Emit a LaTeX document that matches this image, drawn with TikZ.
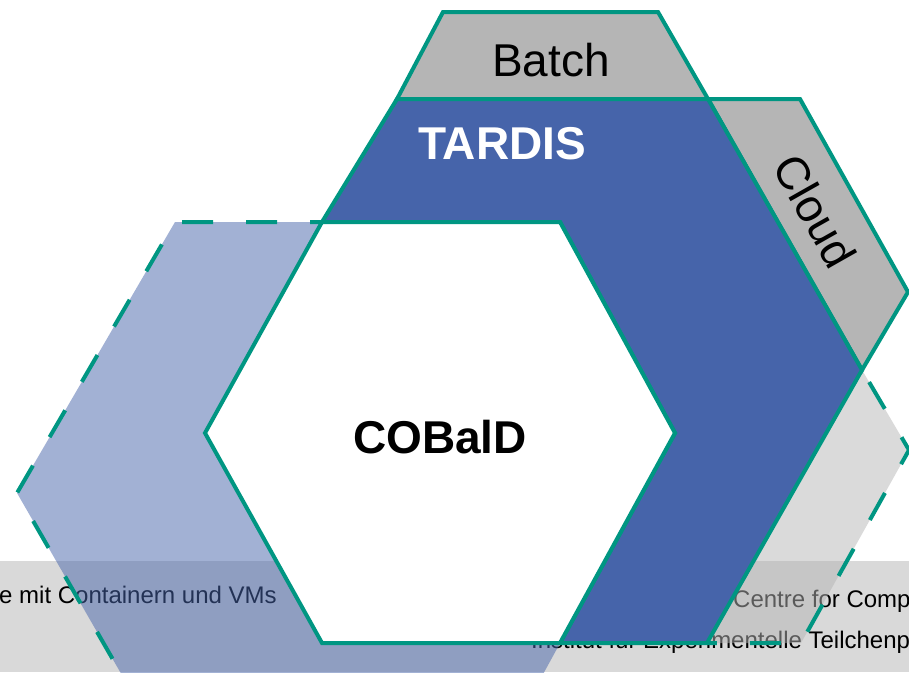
\documentclass[tikz,border=0pt]{standalone}
\usepackage{fontspec}
\setmainfont{Liberation Sans}
\definecolor{kitgreen}{RGB}{0,150,130}
\definecolor{kitblue}{RGB}{70,100,170}
\definecolor{boxgray}{RGB}{181,181,181}
\definecolor{footgray}{RGB}{217,217,217}
\tikzset{
	edge/.style={draw=kitgreen, line width=4pt, line join=miter},
	dashedge/.style={draw=kitgreen, line width=4pt, dash pattern=on 31pt off 33pt},
	big/.style={font=\fontsize{46}{46}\selectfont, inner sep=0pt},
	bigbold/.style={font=\fontsize{46}{46}\selectfont\bfseries, inner sep=0pt},
	small/.style={font=\fontsize{24}{24}\selectfont, inner sep=0pt},
}
\begin{document}
\begin{tikzpicture}[x=1pt,y=-1pt]
	\clip (0,0) rectangle (909,672);
	\fill [footgray] (0,561) rectangle (909,672);
	\node [small, anchor=base west] (vms) at (-1,603) {e mit Containern und VMs};
	\node [small, anchor=base west] (centre) at (733,607) {Centre for Comp};
	\node [small, anchor=base west] (etp) at (531,648) {Institut für Experimentelle Teilchenph};
	\fill [kitblue, opacity=.5] (175,222) -- (560,222) -- (675,433) -- (495,762) -- (172,762) -- (17,493) -- cycle;
	\draw [dashedge, dash phase=19pt] (322,222) -- (175,222) -- (17,493) -- (172,762);
	\fill [boxgray, opacity=.5] (862,370) -- (909,450) -- (801,643) -- (707,643) -- cycle;
	\draw [dashedge, dash phase=50pt] (862,370) -- (909,450) -- (801,643) -- (707,643);
	\draw [edge, fill=boxgray] (397,99) -- (443,12) -- (658,12) -- (708,99) -- cycle;
	\draw [edge, fill=boxgray] (708,99) -- (800,99) -- (908,292) -- (862,370) -- cycle;
	\draw [edge, fill=kitblue] (322,222) -- (397,99) -- (708,99) -- (862,370) -- (707,643) -- (560,643) -- (675,433) -- (560,222) -- cycle;
	\draw [edge, fill=white] (205,433) -- (322,222) -- (560,222) -- (675,433) -- (560,643) -- (322,643) -- cycle;
	\node [big, anchor=base] (batch) at (551,76) {Batch};
	\node [big, rotate=-60.5] (cloud) at (815,211) {Cloud};
	\node [bigbold, text=white, anchor=base west] (tardis) at (418,159) {TARDIS};
	\node [bigbold, anchor=base] (cobald) at (440,453) {COBalD};
\end{tikzpicture}
\end{document}
